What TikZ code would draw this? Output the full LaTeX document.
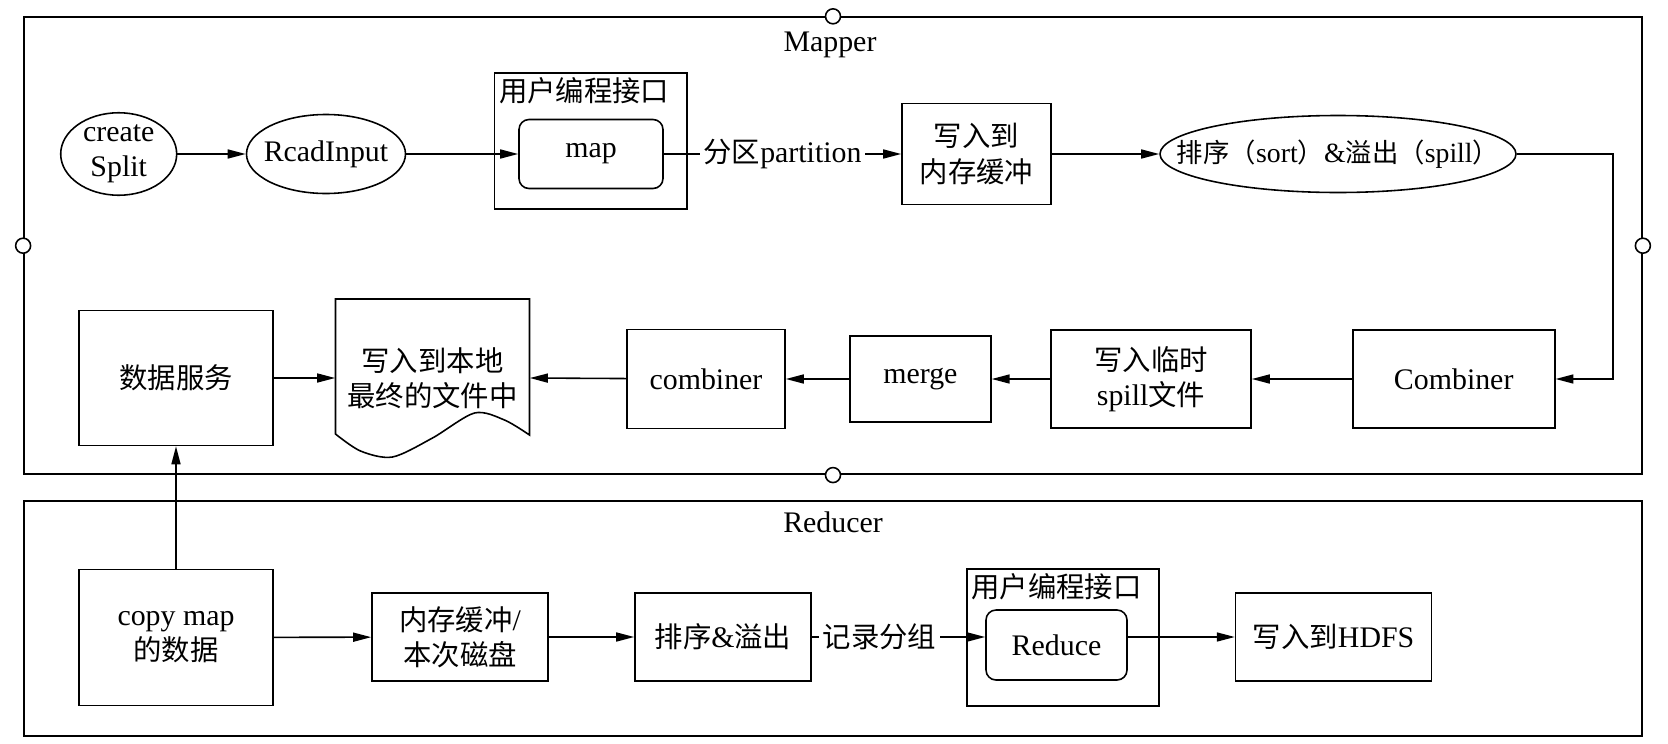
\documentclass[tikz,border=0pt]{standalone}
\usepackage{fontspec}
\setmainfont{Liberation Serif}
\newfontfamily\cjk{Noto Sans CJK SC}[Scale=0.95]
\usetikzlibrary{arrows.meta,shapes.geometric}

\begin{document}
\begin{tikzpicture}[
x=0.02cm, y=-0.02cm,
font=\fontsize{17}{20}\selectfont,
sz/.style 2 args={minimum width=#1*0.02cm, minimum height=#2*0.02cm},
box/.style={rectangle, draw, line width=0.9pt, inner sep=0pt, align=center},
roundbox/.style={box, rounded corners=0.2cm},
oval/.style={ellipse, draw, line width=0.9pt, inner sep=0pt, align=center},
frame/.style={rectangle, draw, line width=1pt, inner sep=0pt},
port/.style={circle, draw, line width=0.9pt, fill=white, minimum size=0.3cm, inner sep=0pt},
tag/.style={fill=white, inner sep=2pt},
arr/.style={line width=0.9pt, -{Triangle[length=3.6mm,width=1.8mm]}},
]
\useasboundingbox (0,0) rectangle (1668,744);

%Frames
\node[frame, sz={1618}{457}] (mapper)  at (833,245.7) {};
\node[frame, sz={1618}{235}] (reducer) at (833,618.2) {};
\node (mapperlbl)  at (830,45)  {Mapper};
\node (reducerlbl) at (833,522) {Reducer};
\foreach \a in {north,south,east,west}
  \node[port] at (mapper.\a) {};

%Nodes: map side
\node[oval, sz={116}{80}]  (split) at (118.7,154) {create\\Split};
\node[oval, sz={159}{79}]  (read)  at (326,154)   {\makebox[0pt]{RcadInput}};
\node[frame, line width=0.9pt, sz={192.5}{136.3}] (api1) at (590.8,140.9) {};
\node[anchor=north west, inner sep=0.1cm] (api1lbl) at (api1.north west) {\cjk 用户编程接口};
\node[roundbox, sz={144}{69}]  (map)   at (591,154)   {map};
\node[box, sz={149}{101}]      (buf)   at (976.5,154) {{\cjk 写入到}\\{\cjk 内存缓冲}};
\node[oval, sz={356}{77}, font=\fontsize{15.8}{19}\selectfont] (sort) at (1338,154)
  {\makebox[0pt]{{\cjk 排序（}sort{\cjk ）}\&{\cjk 溢出（}spill{\cjk ）}}};

\node[box, sz={202}{98}]  (comb)     at (1453.7,379) {Combiner};
\node[box, sz={200}{98}]  (spill)    at (1151,379)   {{\cjk 写入临时}\\spill{\cjk 文件}};
\node[box, sz={141}{86}]  (merge)    at (920.4,379)  {merge};
\node[box, sz={158}{99}]  (combiner) at (706,379)    {combiner};
\node[align=center, inner sep=0pt, sz={194}{158}] (doc) at (432.5,378)
  {{\cjk 写入到本地}\\{\cjk 最终的文件中}};
\node[box, sz={194}{135}] (serv)     at (176,378)    {\cjk 数据服务};

\draw[line width=0.9pt, shift={(doc.center)}] (97,57) -- (97,-79) -- (-97,-79) -- (-97,56)
  -- plot[smooth] coordinates {(-97,56) (-72,73) (-40,79) (0,60) (42,35) (72,42) (97,57)} -- cycle;

%Nodes: reduce side
\node[box, sz={194}{136}] (copy)  at (176,637.5) {copy map\\{\cjk 的数据}};
\node[box, sz={176}{88}]  (mem)   at (460,637)   {{\cjk 内存缓冲}/\\{\cjk 本次磁盘}};
\node[box, sz={176}{88}]  (sortR) at (723,637)   {{\cjk 排序}\&{\cjk 溢出}};
\node[frame, line width=0.9pt, sz={192.3}{136.7}] (api2) at (1062.9,637.4) {};
\node[anchor=north west, inner sep=0.1cm] (api2lbl) at (api2.north west) {\cjk 用户编程接口};
\node[roundbox, sz={141}{70}] (red)  at (1056.5,645) {Reduce};
\node[box, sz={196}{88}]      (hdfs) at (1333.6,637) {{\cjk 写入到}HDFS};

%Lines
\draw[arr] (split) -- (read);
\draw[arr] (read) -- (map);
\draw[arr] (map) -- node[tag] {{\cjk 分区}partition} (buf);
\draw[arr] (buf) -- (sort);
\draw[arr] (sort.east) -- ++(96,0) |- (comb.east);
\draw[arr] (comb) -- (spill);
\draw[arr] (spill) -- (merge);
\draw[arr] (merge) -- (combiner);
\draw[arr] (combiner) -- (doc.east);
\draw[arr] (serv) -- (doc.west);

\draw[arr] (copy.north) -- (serv.south);
\draw[arr] (copy) -- (mem);
\draw[arr] (mem) -- (sortR);
\draw[arr] (sortR.east) -- node[tag, pos=0.39] {\cjk 记录分组} (sortR.east -| red.west);
\draw[arr] (red.east |- hdfs.west) -- (hdfs.west);
\end{tikzpicture}
\end{document}
